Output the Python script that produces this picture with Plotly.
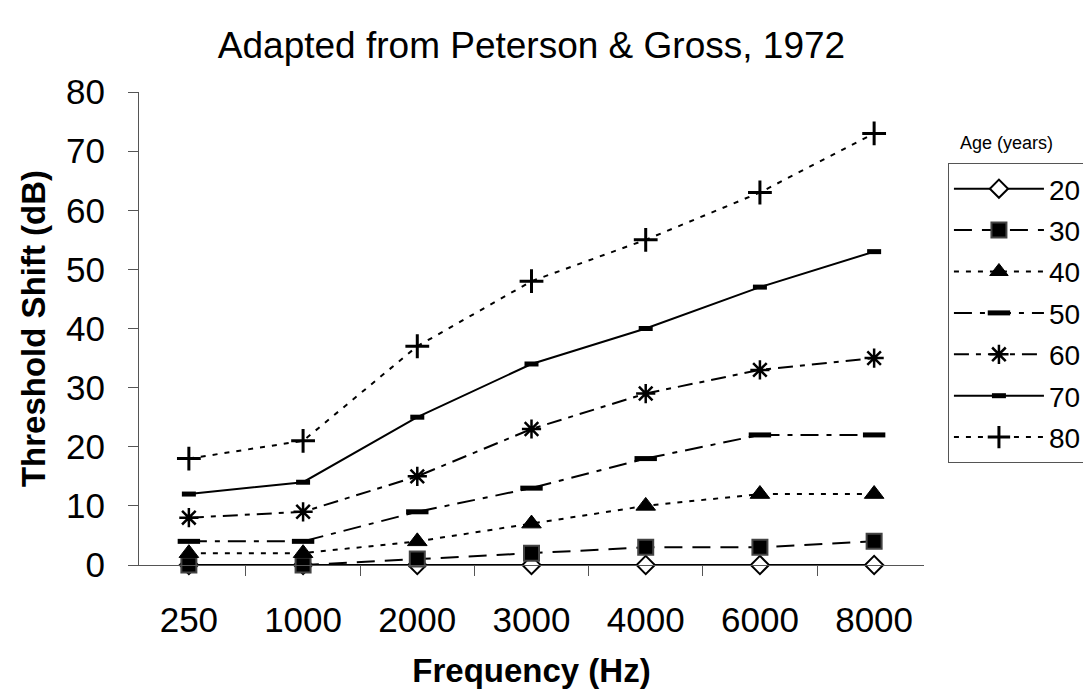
import plotly.graph_objects as go

frequencies = ["250", "1000", "2000", "3000", "4000", "6000", "8000"]
ages = ["20", "30", "40", "50", "60", "70", "80"]
shift_20 = [0, 0, 0, 0, 0, 0, 0]
shift_30 = [0, 0, 1, 2, 3, 3, 4]
shift_40 = [2, 2, 4, 7, 10, 12, 12]
shift_50 = [4, 4, 9, 13, 18, 22, 22]
shift_60 = [8, 9, 15, 23, 29, 33, 35]
shift_70 = [12, 14, 25, 34, 40, 47, 53]
shift_80 = [18, 21, 37, 48, 55, 63, 73]
series = [shift_20, shift_30, shift_40, shift_50, shift_60, shift_70, shift_80]

styles = [
    dict(dash="solid", marker=dict(symbol="diamond", size=14, color="white", line=dict(color="black", width=2))),
    dict(dash="18px,10px", marker=dict(symbol="square", size=15, color="black", line=dict(color="#444444", width=2))),
    dict(dash="5px,7px", marker=dict(symbol="triangle-up", size=17, color="black", line=dict(color="black", width=1))),
    dict(dash="18px,8px,5px,8px", marker=dict(symbol="line-ew", size=16, color="black", line=dict(color="black", width=5))),
    dict(dash="15px,7px,5px,7px", marker=dict(symbol="asterisk-open", size=16, color="black", line=dict(color="black", width=2.5))),
    dict(dash="solid", marker=dict(symbol="line-ew", size=10, color="black", line=dict(color="black", width=5))),
    dict(dash="5px,7px", marker=dict(symbol="cross-thin-open", size=17, color="black", line=dict(color="black", width=3))),
]

FONT = "Arial, Liberation Sans, sans-serif"

fig = go.Figure()
for i, (age, vals, st) in enumerate(zip(ages, series, styles)):
    fig.add_trace(go.Scatter(
        x=frequencies, y=vals, name=age, mode="lines+markers",
        line=dict(color="black", width=2, dash=st["dash"]),
        marker=st["marker"], cliponaxis=False, legendgroup=age,
    ))

fig.update_layout(
    width=1091, height=694,
    margin=dict(l=131, r=173, t=84, b=137),
    paper_bgcolor="white", plot_bgcolor="white",
    font=dict(family=FONT, color="black", size=24),
    title=dict(text="Adapted from Peterson & Gross, 1972", x=0.5, xref="paper", xanchor="center",
               y=1 - 37 / 694, yanchor="middle", font=dict(size=37, family=FONT)),
    showlegend=True,
    legend=dict(x=(942 - 131) / 787, y=(557 - 155) / 473, xanchor="left", yanchor="top",
                bordercolor="#555555", borderwidth=1, bgcolor="white",
                font=dict(size=28, family=FONT), itemwidth=90,
                traceorder="grouped", tracegroupgap=2),
    annotations=[dict(text="Age (years)", x=(952 - 131) / 787, y=(557 - 135) / 473,
                      xref="paper", yref="paper", xanchor="left", yanchor="middle",
                      showarrow=False, font=dict(size=18, family=FONT))],
)

fig.update_xaxes(type="category", tickson="boundaries", ticks="outside", ticklen=10,
                 tickcolor="#555555", showline=True, linecolor="#555555", linewidth=1,
                 showgrid=False, zeroline=False, tickfont=dict(size=35),
                 ticklabelstandoff=24,
                 title=dict(text="<b>Frequency (Hz)</b>", font=dict(size=33), standoff=20))
fig.update_yaxes(range=[0, 80], dtick=10, ticks="outside", ticklen=10,
                 tickcolor="#555555", showline=True, linecolor="#555555", linewidth=1,
                 showgrid=False, zeroline=False, tickfont=dict(size=35),
                 ticklabelstandoff=16,
                 title=dict(text="<b>Threshold Shift (dB)</b>", font=dict(size=33), standoff=10))

fig.write_html("out.html")
